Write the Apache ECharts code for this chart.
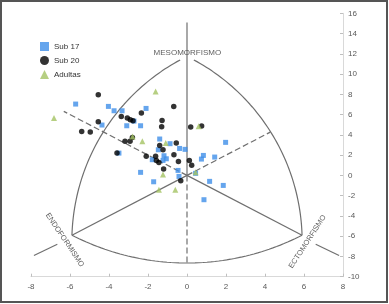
<!DOCTYPE html>
<html>
<head>
<meta charset="utf-8">
<script src="https://cdn.jsdelivr.net/npm/echarts@6/dist/echarts.min.js"></script>
<style>
html, body { margin: 0; padding: 0; background: #fff; }
#chart { width: 389px; height: 304px; }
</style>
</head>
<body>
<div id="chart"></div>
<script>
const sub17 = [
    [-5.71, 7.04], [-4.03, 6.81], [-3.74, 6.38], [-3.33, 6.38], [-2.10, 6.61],
    [-4.36, 4.97], [-3.09, 4.90], [-2.72, 5.36], [-2.38, 4.90], [-3.49, 2.20],
    [-2.38, 0.30], [-1.40, 3.59], [-1.47, 2.53], [-0.87, 3.13], [-0.38, 2.66],
    [-0.10, 2.57], [-1.18, 1.94], [-1.06, 1.64], [-1.78, 1.55], [-1.23, 1.48],
    [-0.46, 0.49], [-0.41, -0.10], [-1.71, -0.63], [0.84, 1.97], [0.74, 1.61],
    [1.42, 1.81], [1.98, 3.26], [0.44, 0.20], [1.16, -0.59], [1.86, -0.99],
    [0.87, -2.40]
];
const sub20 = [
    [-4.55, 7.96], [-4.55, 5.30], [-5.40, 4.34], [-4.96, 4.28], [-3.37, 5.82],
    [-3.06, 5.66], [-2.91, 5.49], [-2.77, 5.39], [-2.34, 6.15], [-3.18, 3.36],
    [-2.92, 3.36], [-2.80, 3.75], [-3.59, 2.20], [-2.09, 1.88], [-1.61, 1.88],
    [-1.57, 1.48], [-1.44, 1.28], [-1.28, 5.43], [-1.30, 4.80], [-1.40, 2.96],
    [-1.23, 2.53], [-1.20, 0.63], [-0.68, 6.81], [-0.55, 3.19], [-0.67, 2.04],
    [-0.44, 1.38], [-0.32, -0.53], [0.19, 4.77], [0.75, 4.87], [0.12, 1.48],
    [0.24, 0.99]
];
const adultas = [
    [-6.82, 5.66], [-1.61, 8.29], [-2.79, 3.85], [-2.29, 3.36], [-1.09, 3.19],
    [0.60, 4.84], [-1.23, 0.10], [-1.44, -1.41], [-0.60, -1.41], [0.44, 0.30]
];
const seriesNames = ['Sub 17', 'Sub 20', 'Adultas'];
const axisLabels = ['ENDOFORMISMO', 'MESOMORFISMO', 'ECTOMORFISMO'];

// ejes
const xMin = -8, xMax = 8, yMin = -10, yMax = 16, tickStep = 2;

// vértices del triángulo de Reuleaux
const endoV = [-5.9, -5.9];
const ectoV = [5.9, -5.9];
const mesoL = [-0.35, 11.4];
const mesoR = [0.35, 11.4];

const K = 19.5 / 10.13; // relación px por unidad x / y

// arco circular (en espacio de pixeles) que pasa por tres puntos
function arc(p0, pm, p1, n) {
    const A = [p0[0] * K, p0[1]], B = [pm[0] * K, pm[1]], C = [p1[0] * K, p1[1]];
    const d = 2 * (A[0] * (B[1] - C[1]) + B[0] * (C[1] - A[1]) + C[0] * (A[1] - B[1]));
    const a2 = A[0] * A[0] + A[1] * A[1], b2 = B[0] * B[0] + B[1] * B[1], c2 = C[0] * C[0] + C[1] * C[1];
    const ux = (a2 * (B[1] - C[1]) + b2 * (C[1] - A[1]) + c2 * (A[1] - B[1])) / d;
    const uy = (a2 * (C[0] - B[0]) + b2 * (A[0] - C[0]) + c2 * (B[0] - A[0])) / d;
    const r = Math.hypot(A[0] - ux, A[1] - uy);
    const tau = Math.PI * 2;
    const mod = (v) => ((v % tau) + tau) % tau;
    const a0 = Math.atan2(A[1] - uy, A[0] - ux);
    const am = Math.atan2(B[1] - uy, B[0] - ux);
    const a1 = Math.atan2(C[1] - uy, C[0] - ux);
    const s1 = mod(a1 - a0), sm = mod(am - a0);
    const sweep = sm < s1 ? s1 : s1 - tau;
    const pts = [];
    for (let i = 0; i <= n; i++) {
        const t = a0 + sweep * i / n;
        pts.push([(ux + r * Math.cos(t)) / K, uy + r * Math.sin(t)]);
    }
    return pts;
}

const frameColor = '#6f6f6f';
function frameLine(data, dashed) {
    return {
        type: 'line',
        data: data,
        symbol: 'none',
        silent: true,
        z: 1,
        lineStyle: { color: frameColor, width: 1.2, type: dashed ? [6, 3] : 'solid' }
    };
}

const chart = echarts.init(document.getElementById('chart'));
const option = {
    animation: false,
    graphic: [{
        type: 'rect',
        shape: { x: 1, y: 1, width: 386, height: 301 },
        style: { fill: 'none', stroke: '#555', lineWidth: 2 },
        silent: true
    }],
    grid: { left: 31, right: 46, top: 13.3, bottom: 27.3 },
    legend: {
        orient: 'vertical',
        left: 35,
        top: 37,
        itemWidth: 9,
        itemHeight: 9,
        itemGap: 5,
        textStyle: { fontSize: 8, color: '#333', fontFamily: 'Liberation Sans' },
        data: seriesNames
    },
    xAxis: {
        type: 'value',
        min: xMin, max: xMax, interval: tickStep,
        axisLine: { onZero: false, lineStyle: { color: '#d9d9d9' } },
        axisTick: { inside: true, length: 3, lineStyle: { color: '#bfbfbf' } },
        axisLabel: { fontSize: 8, color: '#595959', margin: 6, fontFamily: 'Liberation Sans' },
        splitLine: { show: false }
    },
    yAxis: {
        type: 'value',
        position: 'right',
        min: yMin, max: yMax, interval: tickStep,
        axisLine: { show: true, onZero: false, lineStyle: { color: '#d9d9d9' } },
        axisTick: { show: true, inside: true, length: 3, lineStyle: { color: '#bfbfbf' } },
        axisLabel: { fontSize: 8, color: '#595959', margin: 5, fontFamily: 'Liberation Sans' },
        splitLine: { show: false }
    },
    series: [
        frameLine(arc(endoV, [0, -8.65], ectoV, 60)),
        frameLine(arc(endoV, [-5.42, -0.43], mesoL, 60)),
        frameLine(arc(ectoV, [5.42, -0.43], mesoR, 60)),
        frameLine([[0, 0], [0, 15.1]]),
        frameLine([[0, 0], [0, -8.65]], true),
        frameLine([[0, 0], endoV]),
        frameLine([[0, 0], ectoV]),
        frameLine([[0, 0], [-6.32, 6.32]], true),
        frameLine([[0, 0], [4.27, 4.27]], true),
        frameLine([[-7.85, -7.9], [-6.65, -6.8]]),
        frameLine([[6.6, -6.8], [7.8, -7.9]]),
        {
            type: 'scatter',
            silent: true,
            symbolSize: 0,
            z: 2,
            label: {
                show: true,
                position: 'inside',
                color: '#333',
                fontSize: 7.5,
                fontFamily: 'Liberation Sans',
                formatter: (p) => p.name
            },
            data: [
                { name: axisLabels[0], value: [-6.27, -6.38], label: { rotate: -56 } },
                { name: axisLabels[1], value: [0.02, 12.14], label: { fontSize: 8 } },
                { name: axisLabels[2], value: [6.18, -6.55], label: { rotate: 57 } }
            ]
        },
        {
            name: seriesNames[0],
            type: 'scatter',
            symbol: 'rect',
            symbolSize: 5,
            z: 3,
            itemStyle: { color: '#3f8fe8' },
            data: sub17
        },
        {
            name: seriesNames[1],
            type: 'scatter',
            symbol: 'circle',
            symbolSize: 5.5,
            z: 4,
            itemStyle: { color: '#000' },
            data: sub20
        },
        {
            name: seriesNames[2],
            type: 'scatter',
            symbol: 'triangle',
            symbolSize: 6,
            z: 5,
            itemStyle: { color: '#a4c363' },
            data: adultas
        }
    ]
};
chart.setOption(option);
</script>
</body>
</html>
